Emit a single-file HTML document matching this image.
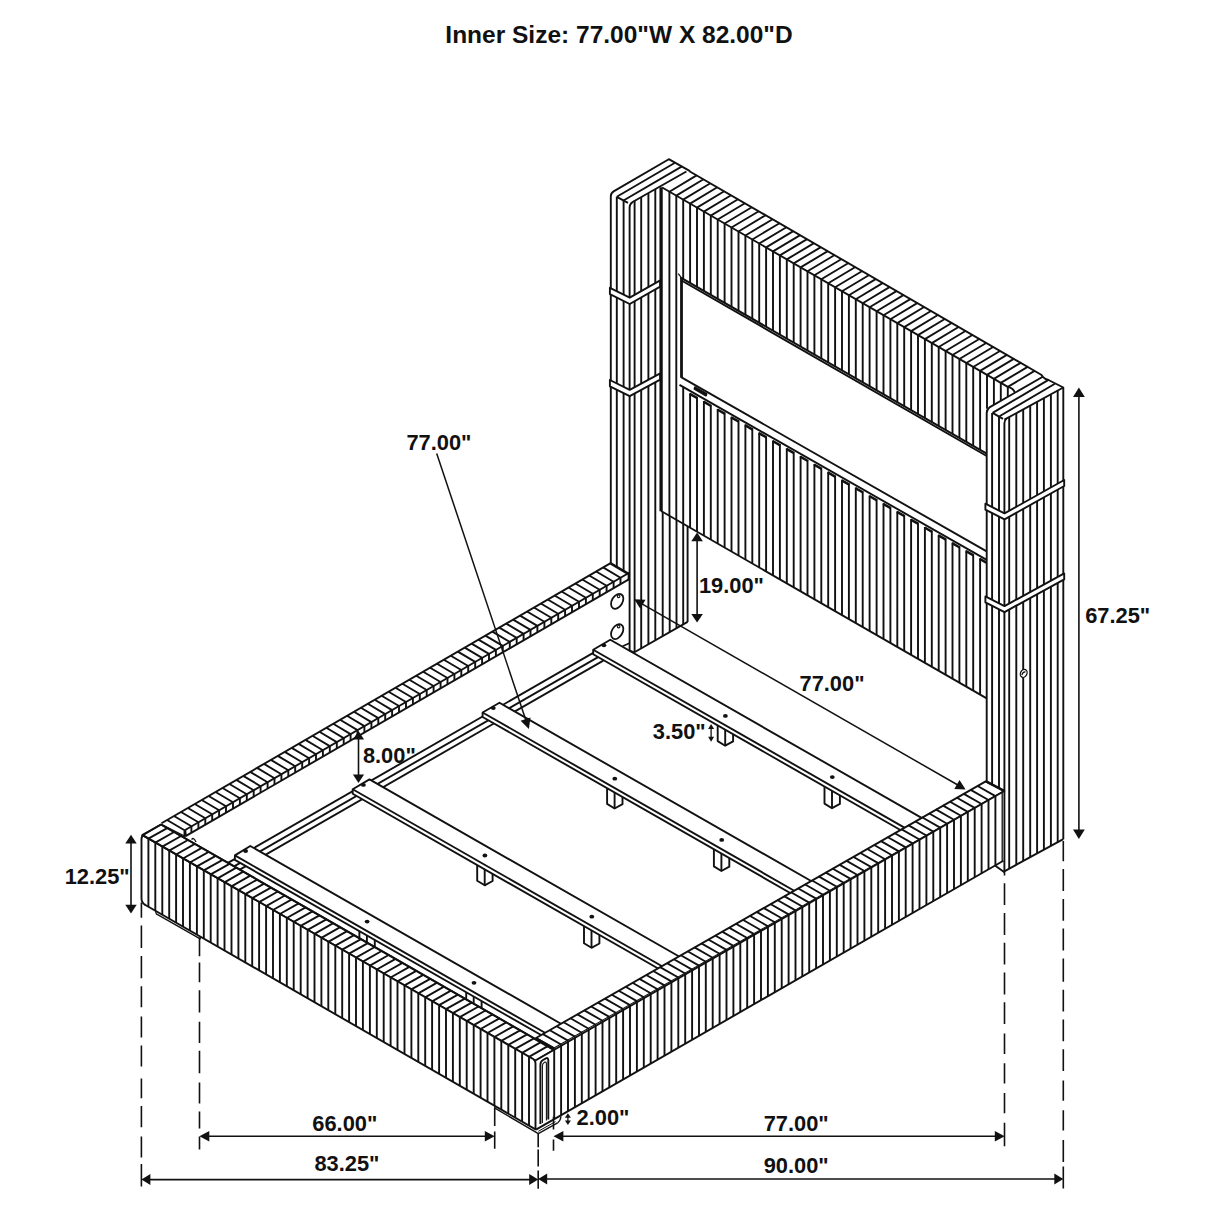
<!DOCTYPE html>
<html><head><meta charset="utf-8"><title>Bed dimensions</title>
<style>
html,body{margin:0;padding:0;background:#fff;}
body{width:1214px;height:1214px;overflow:hidden;position:relative;font-family:"Liberation Sans",sans-serif;}
svg{position:absolute;left:0;top:0;display:block;}
svg path{stroke:#111;stroke-width:1.9;fill:none;stroke-linecap:butt;stroke-linejoin:round;}
svg .k{fill:#111;stroke:none;}
svg .wf{fill:#fff;}
svg text{font-family:"Liberation Sans",sans-serif;font-weight:bold;fill:#111;stroke:none;}
</style></head><body>
<svg width="1214" height="1214" viewBox="0 0 1214 1214">
<path d="M167.1 820L184.5 830.3M184.5 830.3L184.5 836.7M174 816L191.4 826.3M191.4 826.3L191.4 832.7M181 812L198.4 822.3M198.4 822.3L198.4 828.7M187.9 808L205.3 818.3M205.3 818.3L205.3 824.7M194.8 804L212.2 814.3M212.2 814.3L212.2 820.7M201.7 800L219.1 810.3M219.1 810.3L219.1 816.7M208.6 796L226 806.3M226 806.3L226 812.7M215.6 792L233 802.3M233 802.3L233 808.7M222.5 788L239.9 798.3M239.9 798.3L239.9 804.7M229.4 784L246.8 794.3M246.8 794.3L246.8 800.7M236.3 779.9L253.7 790.2M253.7 790.2L253.7 796.6M243.2 775.9L260.6 786.2M260.6 786.2L260.6 792.6M250.2 771.9L267.6 782.2M267.6 782.2L267.6 788.6M257.1 767.9L274.5 778.2M274.5 778.2L274.5 784.6M264 763.9L281.4 774.2M281.4 774.2L281.4 780.6M270.9 759.9L288.3 770.2M288.3 770.2L288.3 776.6M277.8 755.9L295.2 766.2M295.2 766.2L295.2 772.6M284.8 751.9L302.2 762.2M302.2 762.2L302.2 768.6M291.7 747.9L309.1 758.2M309.1 758.2L309.1 764.6M298.6 743.9L316 754.2M316 754.2L316 760.6M305.5 739.9L322.9 750.2M322.9 750.2L322.9 756.6M312.4 735.8L329.8 746.1M329.8 746.1L329.8 752.5M319.4 731.8L336.8 742.1M336.8 742.1L336.8 748.5M326.3 727.8L343.7 738.1M343.7 738.1L343.7 744.5M333.2 723.8L350.6 734.1M350.6 734.1L350.6 740.5M340.1 719.8L357.5 730.1M357.5 730.1L357.5 736.5M347 715.8L364.4 726.1M364.4 726.1L364.4 732.5M354 711.8L371.4 722.1M371.4 722.1L371.4 728.5M360.9 707.8L378.3 718.1M378.3 718.1L378.3 724.5M367.8 703.8L385.2 714.1M385.2 714.1L385.2 720.5M374.7 699.8L392.1 710.1M392.1 710.1L392.1 716.5M381.6 695.7L399 706M399 706L399 712.4M388.6 691.7L406 702M406 702L406 708.4M395.5 687.7L412.9 698M412.9 698L412.9 704.4M402.4 683.7L419.8 694M419.8 694L419.8 700.4M409.3 679.7L426.7 690M426.7 690L426.7 696.4M416.2 675.7L433.6 686M433.6 686L433.6 692.4M423.2 671.7L440.6 682M440.6 682L440.6 688.4M430.1 667.7L447.5 678M447.5 678L447.5 684.4M437 663.7L454.4 674M454.4 674L454.4 680.4M443.9 659.7L461.3 670M461.3 670L461.3 676.4M450.8 655.7L468.2 666M468.2 666L468.2 672.4M457.8 651.6L475.2 661.9M475.2 661.9L475.2 668.3M464.7 647.6L482.1 657.9M482.1 657.9L482.1 664.3M471.6 643.6L489 653.9M489 653.9L489 660.3M478.5 639.6L495.9 649.9M495.9 649.9L495.9 656.3M485.4 635.6L502.8 645.9M502.8 645.9L502.8 652.3M492.4 631.6L509.8 641.9M509.8 641.9L509.8 648.3M499.3 627.6L516.7 637.9M516.7 637.9L516.7 644.3M506.2 623.6L523.6 633.9M523.6 633.9L523.6 640.3M513.1 619.6L530.5 629.9M530.5 629.9L530.5 636.3M520 615.6L537.4 625.9M537.4 625.9L537.4 632.3M527 611.5L544.4 621.8M544.4 621.8L544.4 628.2M533.9 607.5L551.3 617.8M551.3 617.8L551.3 624.2M540.8 603.5L558.2 613.8M558.2 613.8L558.2 620.2M547.7 599.5L565.1 609.8M565.1 609.8L565.1 616.2M554.6 595.5L572 605.8M572 605.8L572 612.2M561.6 591.5L579 601.8M579 601.8L579 608.2M568.5 587.5L585.9 597.8M585.9 597.8L585.9 604.2M575.4 583.5L592.8 593.8M592.8 593.8L592.8 600.2M582.3 579.5L599.7 589.8M599.7 589.8L599.7 596.2M589.2 575.5L606.6 585.8M606.6 585.8L606.6 592.2M596.2 571.5L613.6 581.8M613.6 581.8L613.6 588.2M603.1 567.4L620.5 577.7M620.5 577.7L620.5 584.1"/>
<path d="M161.5 823.3L610.6 563.1"/>
<path d="M184.8 830.2L629.2 572.7"/>
<path d="M185.6 836.1L629.6 578.9"/>
<path d="M610.6 563.3L628.4 573.8" style="stroke-width:2.6"/>
<path d="M628.6 573.8L628.6 580.4"/>
<ellipse cx="617.2" cy="601.3" rx="5.3" ry="8.1" transform="rotate(31 617.2 601.3)" style="fill:#fff;stroke:#111;stroke-width:1.8"/>
<circle cx="618.6" cy="596.3" r="1.3" style="fill:#fff;stroke:#111;stroke-width:1.1"/>
<ellipse cx="617.2" cy="631.6" rx="5.3" ry="8.1" transform="rotate(31 617.2 631.6)" style="fill:#fff;stroke:#111;stroke-width:1.8"/>
<circle cx="618.6" cy="626.6" r="1.3" style="fill:#fff;stroke:#111;stroke-width:1.1"/>
<path d="M228 862.9L593.2 652.9"/>
<path d="M234.1 866.4L598.5 656.9"/>
<path d="M239.8 869.6L603.3 660.6"/>
<path d="M717.7 719.7L717.7 741.1L725.2 745.7L733.1 741.4L733.1 719.7" style="fill:#fff"/>
<path d="M725.2 745.7L725.2 719.7"/>
<path d="M824.5 782.2L824.5 803.6L832 808.2L839.9 803.9L839.9 782.2" style="fill:#fff"/>
<path d="M832 808.2L832 782.2"/>
<path d="M607.1 782.5L607.1 803.9L614.6 808.5L622.5 804.2L622.5 782.5" style="fill:#fff"/>
<path d="M614.6 808.5L614.6 782.5"/>
<path d="M713.9 845L713.9 866.4L721.4 871L729.3 866.7L729.3 845" style="fill:#fff"/>
<path d="M721.4 871L721.4 845"/>
<path d="M477.2 859.3L477.2 880.7L484.7 885.3L492.6 881L492.6 859.3" style="fill:#fff"/>
<path d="M484.7 885.3L484.7 859.3"/>
<path d="M584 921.8L584 943.2L591.5 947.8L599.4 943.5L599.4 921.8" style="fill:#fff"/>
<path d="M591.5 947.8L591.5 921.8"/>
<path d="M359.4 925.4L359.4 946.8L366.9 951.4L374.8 947.1L374.8 925.4" style="fill:#fff"/>
<path d="M366.9 951.4L366.9 925.4"/>
<path d="M466.2 987.9L466.2 1009.3L473.7 1013.9L481.6 1009.6L481.6 987.9" style="fill:#fff"/>
<path d="M473.7 1013.9L473.7 987.9"/>
<path d="M593.2 649.7L610.3 639.8L927.3 821.1L906.1 833.2L593.2 654.2Z" style="fill:#fff"/>
<path d="M593.2 649.7L910.1 830.9"/>
<ellipse cx="603.9" cy="645.3" rx="2.4" ry="1.9" class="k"/>
<ellipse cx="725.4" cy="715.9" rx="2.4" ry="1.9" class="k"/>
<ellipse cx="832.3" cy="777.1" rx="2.4" ry="1.9" class="k"/>
<path d="M482.6 712.5L499.5 702.8L816.8 884.3L795.9 896.2L482.6 717Z" style="fill:#fff"/>
<path d="M482.6 712.5L799.9 894"/>
<ellipse cx="493.3" cy="708.1" rx="2.4" ry="1.9" class="k"/>
<ellipse cx="614.8" cy="778.7" rx="2.4" ry="1.9" class="k"/>
<ellipse cx="721.7" cy="839.9" rx="2.4" ry="1.9" class="k"/>
<path d="M352.7 789.3L369.5 779.4L684.8 959.8L663.8 971.8L352.7 793.8Z" style="fill:#fff"/>
<path d="M352.7 789.3L667.8 969.5"/>
<ellipse cx="363.4" cy="784.9" rx="2.4" ry="1.9" class="k"/>
<ellipse cx="484.9" cy="855.5" rx="2.4" ry="1.9" class="k"/>
<ellipse cx="591.8" cy="916.7" rx="2.4" ry="1.9" class="k"/>
<path d="M234.9 855.4L250.3 846L567 1027.2L547.2 1038.5L234.9 859.9Z" style="fill:#fff"/>
<path d="M234.9 855.4L551.1 1036.3"/>
<ellipse cx="245.6" cy="851" rx="2.4" ry="1.9" class="k"/>
<ellipse cx="367.1" cy="921.6" rx="2.4" ry="1.9" class="k"/>
<ellipse cx="474" cy="982.8" rx="2.4" ry="1.9" class="k"/>
<path d="M634.6 200.8L634.6 652M641.2 197L641.2 648.3M648.4 193L648.4 644.2M655.3 189.1L655.3 640.2M662.7 511.9L662.7 636M669.7 515.9L669.7 632.1M676.5 519.9L676.5 628.2M683.2 523.7L683.2 624.4M687.6 526.3L687.6 621.9M616.8 196.8L616.8 567.7M623.6 200.5L623.6 571.6"/>
<path d="M629.6 650.7V207.5Q629.6 204.2 632.6 202L686.4 171.5"/>
<path d="M629.7 650.7L634 652.5L687.6 621.9"/>
<path d="M622.6 646.3L629.3 643.2" style="stroke-width:1.5"/>
<path d="M610.8 563.3V196.5Q610.8 193.2 613.6 191.4L668.8 159.2L690 171.2"/>
<path d="M616.8 196.8L674.6 163M623.5 200.5L681.6 166.6"/>
<path d="M616.8 196.8L628 202.9"/>
<path d="M609.9 287.8L629.7 297.7L660.2 280.4L660.2 286.7L629.7 304L609.9 294.1Z" style="fill:#fff"/>
<path d="M609.9 380L629.7 389.9L660.2 373.4L660.2 379.7L629.7 396.2L609.9 386.3Z" style="fill:#fff"/>
<path d="M661.1 187.3L661.1 511.2" style="stroke-width:3.3"/>
<path d="M669.4 191.7L669.4 515.8M676.3 195.6L676.3 519.8M683.2 199.6L683.2 279.1M690.1 203.6L690.1 283M697 207.6L697 287M703.9 211.6L703.9 291M710.8 215.6L710.8 295M717.7 219.5L717.7 298.9M724.6 223.5L724.6 302.9M731.5 227.5L731.5 306.9M738.5 231.5L738.5 310.8M745.4 235.5L745.4 314.8M752.3 239.5L752.3 318.8M759.2 243.5L759.2 322.8M766.1 247.4L766.1 326.7M773 251.4L773 330.7M779.9 255.4L779.9 334.7M786.8 259.4L786.8 338.6M793.7 263.4L793.7 342.6M800.6 267.4L800.6 346.6M807.5 271.3L807.5 350.5M814.4 275.3L814.4 354.5M821.3 279.3L821.3 358.5M828.2 283.3L828.2 362.5M835.1 287.3L835.1 366.4M842 291.3L842 370.4M848.9 295.2L848.9 374.4M855.8 299.2L855.8 378.3M862.7 303.2L862.7 382.3M869.6 307.2L869.6 386.3M876.6 311.2L876.6 390.2M883.5 315.2L883.5 394.2M890.4 319.2L890.4 398.2M897.3 323.1L897.3 402.2M904.2 327.1L904.2 406.1M911.1 331.1L911.1 410.1M918 335.1L918 414.1M924.9 339.1L924.9 418M931.8 343.1L931.8 422M938.7 347L938.7 426M945.6 351L945.6 430M952.5 355L952.5 433.9M959.4 359L959.4 437.9M966.3 363L966.3 441.9M973.2 367L973.2 445.8M980.1 370.9L980.1 449.8"/>
<path d="M662.2 187.5L1007.8 386.9"/>
<path d="M689.4 171.2L1041.2 374.7L1042.8 376.8"/>
<path d="M669.4 191.7L696.6 175.4M676.3 195.6L703.5 179.3M683.2 199.6L710.4 183.3M690.1 203.6L717.3 187.3M697 207.6L724.2 191.3M703.9 211.6L731.1 195.3M710.8 215.6L738 199.3M717.7 219.5L744.9 203.2M724.6 223.5L751.8 207.2M731.5 227.5L758.8 211.2M738.5 231.5L765.7 215.2M745.4 235.5L772.6 219.2M752.3 239.5L779.5 223.2M759.2 243.5L786.4 227.2M766.1 247.4L793.3 231.1M773 251.4L800.2 235.1M779.9 255.4L807.1 239.1M786.8 259.4L814 243.1M793.7 263.4L820.9 247.1M800.6 267.4L827.8 251.1M807.5 271.3L834.7 255M814.4 275.3L841.6 259M821.3 279.3L848.5 263M828.2 283.3L855.4 267M835.1 287.3L862.3 271M842 291.3L869.2 275M848.9 295.2L876.1 278.9M855.8 299.2L883 282.9M862.7 303.2L889.9 286.9M869.6 307.2L896.9 290.9M876.6 311.2L903.8 294.9M883.5 315.2L910.7 298.9M890.4 319.2L917.6 302.9M897.3 323.1L924.5 306.8M904.2 327.1L931.4 310.8M911.1 331.1L938.3 314.8M918 335.1L945.2 318.8M924.9 339.1L952.1 322.8M931.8 343.1L959 326.8M938.7 347L965.9 330.7M945.6 351L972.8 334.7M952.5 355L979.7 338.7M959.4 359L986.6 342.7M966.3 363L993.5 346.7M973.2 367L1000.4 350.7M980.1 370.9L1007.3 354.6M987 374.9L1014.2 358.6M993.9 378.9L1021.1 362.6M1000.8 382.9L1028 366.6M1007.8 386.9L1035 370.6"/>
<path d="M681.5 277.2L681.5 377.8" style="stroke-width:2.8"/>
<path d="M680.3 277.4L986.7 453.6" style="stroke-width:2.1"/>
<path d="M681.5 280.5L986.7 456" style="stroke-width:2"/>
<path d="M678.2 273.6L680.8 276.8" style="stroke-width:1.3"/>
<path d="M681.5 377.3L986.7 551.4"/>
<path d="M679.5 384.9L986.7 559.9"/>
<path d="M695 387.2L706.5 393.8L706 395.6L694.5 389Z" style="fill:#111"/>
<path d="M683.2 387L683.2 523.7M690.1 393.2L690.1 527.7M697 397.1L697 531.7M703.9 401L703.9 535.6M710.8 405L710.8 539.6M717.7 408.9L717.7 543.6M724.6 412.8L724.6 547.6M731.5 416.8L731.5 551.5M738.5 420.7L738.5 555.5M745.4 424.6L745.4 559.5M752.3 428.6L752.3 563.5M759.2 432.5L759.2 567.4M766.1 436.4L766.1 571.4M773 440.4L773 575.4M779.9 444.3L779.9 579.4M786.8 448.2L786.8 583.3M793.7 452.2L793.7 587.3M800.6 456.1L800.6 591.3M807.5 460L807.5 595.3M814.4 464L814.4 599.2M821.3 467.9L821.3 603.2M828.2 471.8L828.2 607.2M835.1 475.8L835.1 611.2M842 479.7L842 615.1M848.9 483.6L848.9 619.1M855.8 487.6L855.8 623.1M862.7 491.5L862.7 627M869.6 495.4L869.6 631M876.6 499.4L876.6 635M883.5 503.3L883.5 639M890.4 507.2L890.4 642.9M897.3 511.2L897.3 646.9M904.2 515.1L904.2 650.9M911.1 519L911.1 654.9M918 522.9L918 658.8M924.9 526.9L924.9 662.8M931.8 530.8L931.8 666.8M938.7 534.7L938.7 670.8M945.6 538.7L945.6 674.7M952.5 542.6L952.5 678.7M959.4 546.5L959.4 682.7M966.3 550.5L966.3 686.7M973.2 554.4L973.2 690.6M980.1 558.3L980.1 694.6"/>
<path d="M689.7 393.8L697.4 398.1M703.5 401.6L711.2 406M717.3 409.5L725 413.8M731.1 417.4L738.9 421.7M745 425.2L752.7 429.6M758.8 433.1L766.5 437.4M772.6 441L780.3 445.3M786.4 448.8L794.1 453.2M800.2 456.7L807.9 461M814 464.6L821.7 468.9M827.8 472.4L835.5 476.8M841.6 480.3L849.3 484.6M855.4 488.2L863.1 492.5M869.2 496L877 500.4M883.1 503.9L890.8 508.2M896.9 511.8L904.6 516.1M910.7 519.6L918.4 523.9M924.5 527.5L932.2 531.8M938.3 535.3L946 539.7M952.1 543.2L959.8 547.5M965.9 551.1L973.6 555.4M979.7 558.9L986.3 562.6" style="stroke-width:2.5"/>
<path d="M661.1 511L986.7 698.4"/>
<path d="M142.2 835.1L161 824.5L536.2 1039.5L554.2 1049.7L535.5 1060.5Z" style="fill:#fff"/>
<path d="M141.5 836L535.5 1060.5L554.2 1049.7L554.2 1119L536 1129.6L141.5 903Z" style="fill:#fff;stroke:none"/>
<path d="M148.4 838.7L167.2 828.1M148.4 838.7L148.4 906.8M155.3 842.6L174.1 832M155.3 842.6L155.3 910.8M162.3 846.6L181.1 836M162.3 846.6L162.3 914.7M169.2 850.6L188 840M169.2 850.6L169.2 918.7M176.1 854.5L194.9 843.9M176.1 854.5L176.1 922.7M183 858.5L201.8 847.9M183 858.5L183 926.7M189.9 862.5L208.7 851.9M189.9 862.5L189.9 930.6M196.9 866.4L215.7 855.8M196.9 866.4L196.9 934.6M203.8 870.4L222.6 859.8M203.8 870.4L203.8 938.6M210.7 874.4L229.5 863.8M210.7 874.4L210.7 942.6M217.6 878.3L236.4 867.7M217.6 878.3L217.6 946.6M224.5 882.3L243.3 871.7M224.5 882.3L224.5 950.5M231.5 886.3L250.3 875.7M231.5 886.3L231.5 954.5M238.4 890.2L257.2 879.6M238.4 890.2L238.4 958.5M245.3 894.2L264.1 883.6M245.3 894.2L245.3 962.5M252.2 898.2L271 887.6M252.2 898.2L252.2 966.5M259.1 902.1L277.9 891.5M259.1 902.1L259.1 970.4M266.1 906.1L284.9 895.5M266.1 906.1L266.1 974.4M273 910L291.8 899.4M273 910L273 978.4M279.9 914L298.7 903.4M279.9 914L279.9 982.4M286.8 918L305.6 907.4M286.8 918L286.8 986.3M293.7 921.9L312.5 911.3M293.7 921.9L293.7 990.3M300.7 925.9L319.5 915.3M300.7 925.9L300.7 994.3M307.6 929.9L326.4 919.3M307.6 929.9L307.6 998.3M314.5 933.8L333.3 923.2M314.5 933.8L314.5 1002.3M321.4 937.8L340.2 927.2M321.4 937.8L321.4 1006.2M328.3 941.8L347.1 931.2M328.3 941.8L328.3 1010.2M335.3 945.7L354.1 935.1M335.3 945.7L335.3 1014.2M342.2 949.7L361 939.1M342.2 949.7L342.2 1018.2M349.1 953.7L367.9 943.1M349.1 953.7L349.1 1022.1M356 957.6L374.8 947M356 957.6L356 1026.1M362.9 961.6L381.7 951M362.9 961.6L362.9 1030.1M369.9 965.6L388.7 955M369.9 965.6L369.9 1034.1M376.8 969.5L395.6 958.9M376.8 969.5L376.8 1038.1M383.7 973.5L402.5 962.9M383.7 973.5L383.7 1042M390.6 977.5L409.4 966.9M390.6 977.5L390.6 1046M397.5 981.4L416.3 970.8M397.5 981.4L397.5 1050M404.5 985.4L423.3 974.8M404.5 985.4L404.5 1054M411.4 989.4L430.2 978.8M411.4 989.4L411.4 1058M418.3 993.3L437.1 982.7M418.3 993.3L418.3 1061.9M425.2 997.3L444 986.7M425.2 997.3L425.2 1065.9M432.1 1001.3L450.9 990.7M432.1 1001.3L432.1 1069.9M439.1 1005.2L457.9 994.6M439.1 1005.2L439.1 1073.9M446 1009.2L464.8 998.6M446 1009.2L446 1077.8M452.9 1013.2L471.7 1002.6M452.9 1013.2L452.9 1081.8M459.8 1017.1L478.6 1006.5M459.8 1017.1L459.8 1085.8M466.7 1021.1L485.5 1010.5M466.7 1021.1L466.7 1089.8M473.7 1025.1L492.5 1014.5M473.7 1025.1L473.7 1093.8M480.6 1029L499.4 1018.4M480.6 1029L480.6 1097.7M487.5 1033L506.3 1022.4M487.5 1033L487.5 1101.7M494.4 1037L513.2 1026.4M494.4 1037L494.4 1105.7M501.3 1040.9L520.1 1030.3M501.3 1040.9L501.3 1109.7M508.3 1044.9L527.1 1034.3M508.3 1044.9L508.3 1113.7M515.2 1048.9L534 1038.3M515.2 1048.9L515.2 1117.6M522.1 1052.8L540.9 1042.2M522.1 1052.8L522.1 1121.6M529 1056.8L547.8 1046.2M529 1056.8L529 1125.6"/>
<path d="M161 824.5L536.2 1039.5"/>
<path d="M162.8 825L185.5 836.6" style="stroke-width:1.2"/>
<path d="M161 824.5L144.3 834.2Q141.5 835.8 141.5 839V898.5Q141.5 902.5 145 904.8"/>
<path d="M143.5 835.6L533 1059"/>
<path d="M144.5 904.5L536 1129.6"/>
<path d="M191.6 839.6Q193.6 836.6 196 842" style="stroke-width:1.3"/>
<path d="M185.2 829.9L185.9 835.9"/>
<path d="M155.5 910.8L156.3 913.9L200.2 938.9L200.4 936.7" style="stroke-width:1.3"/>
<path d="M533 1059Q535.5 1060.3 535.5 1063.5V1129.3"/>
<path d="M540.4 1124V1064.8Q540.4 1061.5 543 1060L546 1058.3Q548.3 1057.3 548.3 1060.5V1119.5"/>
<path d="M542.4 1123V1066Q542.4 1063.5 544.5 1062.3Q546.4 1061.3 546.4 1064V1120.5" style="stroke-width:1.1"/>
<path d="M494.7 1105.9L494.9 1108.2L538.3 1133.6L557.6 1122.8" style="stroke-width:1.4"/>
<path d="M557.6 1122.8Q560.5 1121 560.9 1116.3" style="stroke-width:1.4"/>
<path d="M538.3 1131.3L555.5 1121.6" style="stroke-width:1"/>
<path d="M554.2 1048.4L536 1038L985.7 781.4L1004.3 791Z" style="fill:#fff"/>
<path d="M554.2 1048.4L1004.3 791L1004.3 871L995.3 865.3L554.2 1119.1Z" style="fill:#fff;stroke:none"/>
<path d="M554.2 1048.4L536 1038M554.2 1048.4L554.2 1119.1M561.1 1044.5L542.9 1034.1M561.1 1044.5L561.1 1115.2M568 1040.6L549.8 1030.2M568 1040.6L568 1111.2M574.9 1036.6L556.7 1026.2M574.9 1036.6L574.9 1107.2M581.8 1032.7L563.6 1022.3M581.8 1032.7L581.8 1103.3M588.7 1028.7L570.5 1018.3M588.7 1028.7L588.7 1099.3M595.6 1024.8L577.4 1014.4M595.6 1024.8L595.6 1095.3M602.5 1020.8L584.3 1010.4M602.5 1020.8L602.5 1091.4M609.3 1016.9L591.1 1006.5M609.3 1016.9L609.3 1087.4M616.2 1013L598 1002.6M616.2 1013L616.2 1083.4M623.1 1009L604.9 998.6M623.1 1009L623.1 1079.5M630 1005.1L611.8 994.7M630 1005.1L630 1075.5M636.9 1001.1L618.7 990.7M636.9 1001.1L636.9 1071.5M643.8 997.2L625.6 986.8M643.8 997.2L643.8 1067.6M650.7 993.2L632.5 982.8M650.7 993.2L650.7 1063.6M657.6 989.3L639.4 978.9M657.6 989.3L657.6 1059.6M664.5 985.4L646.3 975M664.5 985.4L664.5 1055.7M671.4 981.4L653.2 971M671.4 981.4L671.4 1051.7M678.3 977.5L660.1 967.1M678.3 977.5L678.3 1047.7M685.2 973.5L667 963.1M685.2 973.5L685.2 1043.8M692.1 969.6L673.9 959.2M692.1 969.6L692.1 1039.8M699 965.6L680.8 955.2M699 965.6L699 1035.8M705.8 961.7L687.6 951.3M705.8 961.7L705.8 1031.9M712.7 957.8L694.5 947.4M712.7 957.8L712.7 1027.9M719.6 953.8L701.4 943.4M719.6 953.8L719.6 1023.9M726.5 949.9L708.3 939.5M726.5 949.9L726.5 1020M733.4 945.9L715.2 935.5M733.4 945.9L733.4 1016M740.3 942L722.1 931.6M740.3 942L740.3 1012M747.2 938L729 927.6M747.2 938L747.2 1008.1M754.1 934.1L735.9 923.7M754.1 934.1L754.1 1004.1M761 930.2L742.8 919.8M761 930.2L761 1000.1M767.9 926.2L749.7 915.8M767.9 926.2L767.9 996.2M774.8 922.3L756.6 911.9M774.8 922.3L774.8 992.2M781.7 918.3L763.5 907.9M781.7 918.3L781.7 988.2M788.6 914.4L770.4 904M788.6 914.4L788.6 984.3M795.5 910.4L777.3 900M795.5 910.4L795.5 980.3M802.3 906.5L784.1 896.1M802.3 906.5L802.3 976.3M809.2 902.6L791 892.2M809.2 902.6L809.2 972.4M816.1 898.6L797.9 888.2M816.1 898.6L816.1 968.4M823 894.7L804.8 884.3M823 894.7L823 964.5M829.9 890.7L811.7 880.3M829.9 890.7L829.9 960.5M836.8 886.8L818.6 876.4M836.8 886.8L836.8 956.5M843.7 882.8L825.5 872.4M843.7 882.8L843.7 952.6M850.6 878.9L832.4 868.5M850.6 878.9L850.6 948.6M857.5 875L839.3 864.6M857.5 875L857.5 944.6M864.4 871L846.2 860.6M864.4 871L864.4 940.7M871.3 867.1L853.1 856.7M871.3 867.1L871.3 936.7M878.2 863.1L860 852.7M878.2 863.1L878.2 932.7M885.1 859.2L866.9 848.8M885.1 859.2L885.1 928.8M892 855.2L873.8 844.8M892 855.2L892 924.8M898.9 851.3L880.6 840.9M898.9 851.3L898.9 920.8M905.7 847.4L887.5 837M905.7 847.4L905.7 916.9M912.6 843.4L894.4 833M912.6 843.4L912.6 912.9M919.5 839.5L901.3 829.1M919.5 839.5L919.5 908.9M926.4 835.5L908.2 825.1M926.4 835.5L926.4 905M933.3 831.6L915.1 821.2M933.3 831.6L933.3 901M940.2 827.6L922 817.2M940.2 827.6L940.2 897M947.1 823.7L928.9 813.3M947.1 823.7L947.1 893.1M954 819.8L935.8 809.4M954 819.8L954 889.1M960.9 815.8L942.7 805.4M960.9 815.8L960.9 885.1M967.8 811.9L949.6 801.5M967.8 811.9L967.8 881.2M974.7 807.9L956.5 797.5M974.7 807.9L974.7 877.2M981.6 804L963.4 793.6M981.6 804L981.6 873.2M988.5 800L970.3 789.6M988.5 800L988.5 869.3M995.4 796.1L977.2 785.7M995.4 796.1L995.4 865.3"/>
<path d="M535.5 1060.5L1004.3 791"/>
<path d="M985.7 781.2L1003.6 790.6" style="stroke-width:2.6"/>
<path d="M536 1129.6L1003.4 860.7"/>
<path d="M995 865.5L1004.4 872.2"/>
<path d="M1002.2 792.5L1002.2 861.4" style="stroke-width:1.3"/>
<path d="M534.4 1039.2L552.6 1049.8" style="stroke-width:1.1"/>
<path d="M987 374.9L987 408.7M993.9 378.9L993.9 404.8M1000.8 382.9L1000.8 400.8"/>
<path d="M1014.9 392.8Q1013.6 388.2 1007.8 386.9V396.8"/>
<path d="M986.7 781.4V413Q986.7 409.6 989.4 407.4L1042.8 376.8Q1045 379.2 1048.5 380L1063.3 387.5V839.2"/>
<path d="M992.6 412.9L1048.5 379.9M999.5 416.2L1054.9 383.8M1004.4 419.7L1063.3 387.5"/>
<path d="M992.6 412.9L1003 418.9"/>
<path d="M1004.4 871.3V423Q1004.4 420.5 1006.5 418.6"/>
<path d="M992.1 413L992.1 784.7M999 416.5L999 788.3M1009.2 417.1L1009.2 868.6M1016.3 413.2L1016.3 864.8M1023.2 409.4L1023.2 861M1030.2 405.6L1030.2 857.2M1037.1 401.8L1037.1 853.5M1043.9 398.1L1043.9 849.8M1050.9 394.3L1050.9 845.9M1057.7 390.6L1057.7 842.2"/>
<path d="M1004.3 871.3L1063.3 839.2"/>
<path d="M985.4 503.7L1004.5 513.4L1064.2 480L1064.2 486L1004.5 519.4L985.4 509.7Z" style="fill:#fff"/>
<path d="M985.4 596.4L1004.5 606.1L1064.2 573.4L1064.2 579.4L1004.5 612.1L985.4 602.4Z" style="fill:#fff"/>
<ellipse cx="1023.7" cy="673.4" rx="3.2" ry="4.2" transform="rotate(25 1023.7 673.4)" style="fill:#fff;stroke:#111;stroke-width:1.3"/>
<path d="M1021.8 675Q1023 671.5 1025.6 672" style="stroke-width:1.2"/>
<text x="619" y="42.9" font-size="24.50" text-anchor="middle">Inner Size: 77.00&quot;W X 82.00&quot;D</text>
<text x="406.4" y="449.5" font-size="21.85" text-anchor="start">77.00&quot;</text>
<path d="M436.7 453.5L526.3 721.5" style="stroke-width:1.5"/>
<path class="k" d="M528.9 729L520.6 720.7L530.5 717.4Z"/>
<text x="698.9" y="592.8" font-size="21.85" text-anchor="start">19.00&quot;</text>
<path d="M697.1 539.5L697.1 615.7" style="stroke-width:1.6"/>
<path class="k" d="M697.1 622.6L691.3 614L702.9 614Z"/>
<path class="k" d="M697.1 532.6L702.9 541.2L691.3 541.2Z"/>
<text x="1085.2" y="623.2" font-size="21.85" text-anchor="start">67.25&quot;</text>
<path d="M1078.9 395L1078.9 831.5" style="stroke-width:1.6"/>
<path class="k" d="M1078.9 839L1073 829.6L1084.8 829.6Z"/>
<path class="k" d="M1078.9 387.5L1084.8 396.9L1073 396.9Z"/>
<text x="799.5" y="690.7" font-size="21.85" text-anchor="start">77.00&quot;</text>
<path d="M641.1 603.3L958.7 785.5" style="stroke-width:1.5"/>
<path class="k" d="M965.6 789.5L954.3 789L959.5 780Z"/>
<path class="k" d="M634.2 599.3L645.5 599.8L640.3 608.8Z"/>
<text x="652.8" y="739.4" font-size="21.85" text-anchor="start">3.50&quot;</text>
<path d="M711.1 728L711.1 737.8" style="stroke-width:1.3"/>
<path class="k" d="M711.1 741.8L708.1 736.8L714.1 736.8Z"/>
<path class="k" d="M711.1 724L714.1 729L708.1 729Z"/>
<text x="362.9" y="762.8" font-size="21.85" text-anchor="start">8.00&quot;</text>
<path d="M358.5 737.9L358.5 776.1" style="stroke-width:1.6"/>
<path class="k" d="M358.5 783L352.9 774.4L364.1 774.4Z"/>
<path class="k" d="M358.5 731L364.1 739.6L352.9 739.6Z"/>
<text x="64.7" y="884.4" font-size="21.85" text-anchor="start">12.25&quot;</text>
<path d="M131 841.8L131 906.6" style="stroke-width:1.6"/>
<path class="k" d="M131 913.6L125.3 904.8L136.7 904.8Z"/>
<path class="k" d="M131 834.8L136.7 843.6L125.3 843.6Z"/>
<text x="312.3" y="1130.8" font-size="21.85" text-anchor="start">66.00&quot;</text>
<path d="M207.3 1136.2L486.8 1136.2" style="stroke-width:1.6"/>
<path class="k" d="M494.7 1136.2L484.8 1141.5L484.8 1130.9Z"/>
<path class="k" d="M199.4 1136.2L209.3 1130.9L209.3 1141.5Z"/>
<text x="314.4" y="1171.2" font-size="21.85" text-anchor="start">83.25&quot;</text>
<path d="M148.6 1179.6L531 1179.6" style="stroke-width:1.6"/>
<path class="k" d="M538.2 1179.6L529.2 1185.1L529.2 1174.1Z"/>
<path class="k" d="M141.4 1179.6L150.4 1174.1L150.4 1185.1Z"/>
<text x="576.6" y="1125.1" font-size="21.85" text-anchor="start">2.00&quot;</text>
<path d="M567.9 1116.9L567.9 1121.4" style="stroke-width:1.3"/>
<path class="k" d="M567.9 1125.1L564.9 1120.5L570.9 1120.5Z"/>
<path class="k" d="M567.9 1113.2L570.9 1117.8L564.9 1117.8Z"/>
<text x="763.7" y="1131.3" font-size="21.85" text-anchor="start">77.00&quot;</text>
<path d="M561.4 1136.2L996.8 1136.2" style="stroke-width:1.6"/>
<path class="k" d="M1004.7 1136.2L994.8 1141.5L994.8 1130.9Z"/>
<path class="k" d="M553.5 1136.2L563.4 1130.9L563.4 1141.5Z"/>
<text x="763.7" y="1172.9" font-size="21.85" text-anchor="start">90.00&quot;</text>
<path d="M545.4 1179L1056.1 1179" style="stroke-width:1.6"/>
<path class="k" d="M1063.3 1179L1054.3 1184.5L1054.3 1173.5Z"/>
<path class="k" d="M538.2 1179L547.2 1173.5L547.2 1184.5Z"/>
<path d="M141.4 902.5L141.4 917.7M141.4 925.6L141.4 948M141.4 955.9L141.4 978.3M141.4 986.2L141.4 1007.3M141.4 1016.5L141.4 1037.6M141.4 1045.5L141.4 1066.6M141.4 1078.5L141.4 1098.2M141.4 1106.1L141.4 1127.2M141.4 1136.4L141.4 1157.5M141.4 1164.1L141.4 1186.5" style="stroke-width:1.6"/>
<path d="M199.5 937.7L199.5 956.2M199.5 962.4L199.5 982.3M199.5 990.2L199.5 1012.6M199.5 1021.8L199.5 1042.9M199.5 1050.8L199.5 1073.2M199.5 1082.4L199.5 1103.5M199.5 1111.4L199.5 1128.5M199.5 1136.4L199.5 1149.6" style="stroke-width:1.6"/>
<path d="M494.7 1107.8L494.7 1126.1M494.7 1131.5L494.7 1148.8" style="stroke-width:1.6"/>
<path d="M538.2 1133.5L538.2 1147.3M538.2 1149.6L538.2 1166.6M538.2 1170.6L538.2 1188.8" style="stroke-width:1.6"/>
<path d="M553.5 1116.7L553.5 1129.5M553.5 1139.4L553.5 1150.8" style="stroke-width:1.6"/>
<path d="M1004.5 871.3L1004.5 875.5M1004.5 883.2L1004.5 905.1M1004.5 913L1004.5 934.9M1004.5 942.7L1004.5 964.6M1004.5 972.5L1004.5 994.4M1004.5 1002.2L1004.5 1024.1M1004.5 1033.5L1004.5 1053.9M1004.5 1063.2L1004.5 1083.6M1004.5 1093L1004.5 1113.3M1004.5 1122.7L1004.5 1146.2" style="stroke-width:1.6"/>
<path d="M1063.3 841L1063.3 861.3M1063.3 869.1L1063.3 891M1063.3 898.9L1063.3 920.8M1063.3 928.6L1063.3 950.5M1063.3 958.4L1063.3 981.8M1063.3 989.7L1063.3 1011.6M1063.3 1019.4L1063.3 1041.3M1063.3 1049.2L1063.3 1071.1M1063.3 1080.5L1063.3 1100.8M1063.3 1110.2L1063.3 1130.6M1063.3 1140L1063.3 1161.9M1063.3 1166.6L1063.3 1188.5" style="stroke-width:1.6"/>
</svg>
</body></html>
